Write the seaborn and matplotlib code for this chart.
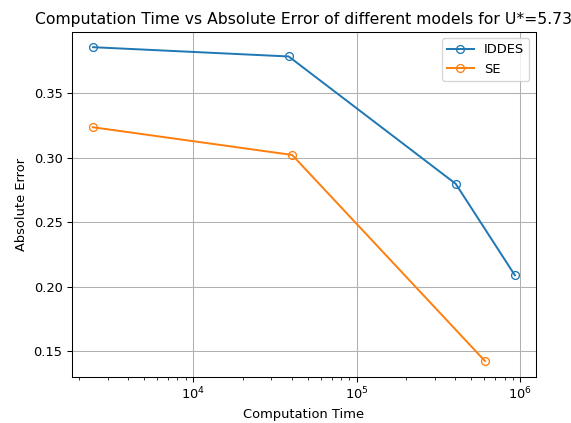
import matplotlib
matplotlib.use("Agg")
import matplotlib.pyplot as plt
import seaborn as sns
import pandas as pd

# Computation time (x) and absolute error (y) for each turbulence model
iddes_time = [2440, 38300, 402000, 925000]
iddes_error = [0.3858, 0.3786, 0.2798, 0.2088]
se_time = [2430, 40200, 607000]
se_error = [0.3237, 0.3022, 0.1423]

models = ["IDDES", "SE"]
colors = ["#1f77b4", "#ff7f0e"]

plt.rcParams["font.family"] = ["DejaVu Sans"]

fig = plt.figure(figsize=(571 / 94, 423 / 94), dpi=94)
ax = fig.add_axes([71.7 / 571, (423 - 376.7) / 423, (536 - 71.7) / 571, (376.7 - 31.5) / 423])

series = [(iddes_time, iddes_error), (se_time, se_error)]
for name, color, (t, e) in zip(models, colors, series):
    df = pd.DataFrame({"Computation Time": t, "Absolute Error": e})
    sns.lineplot(
        data=df, x="Computation Time", y="Absolute Error", ax=ax,
        color=color, marker="o", markersize=6,
        markerfacecolor="none", markeredgecolor=color, markeredgewidth=1.0,
        linewidth=1.5, label=name, sort=False,
    )

ax.set_xscale("log")
ax.grid(True, which="major", color="#b0b0b0", linewidth=0.8)
ax.set_xlabel("Computation Time")
ax.set_ylabel("Absolute Error")
ax.set_title("Computation Time vs Absolute Error of different models for U*=5.73")
ax.legend(loc="upper right")

fig.savefig("out.png", dpi=94)
